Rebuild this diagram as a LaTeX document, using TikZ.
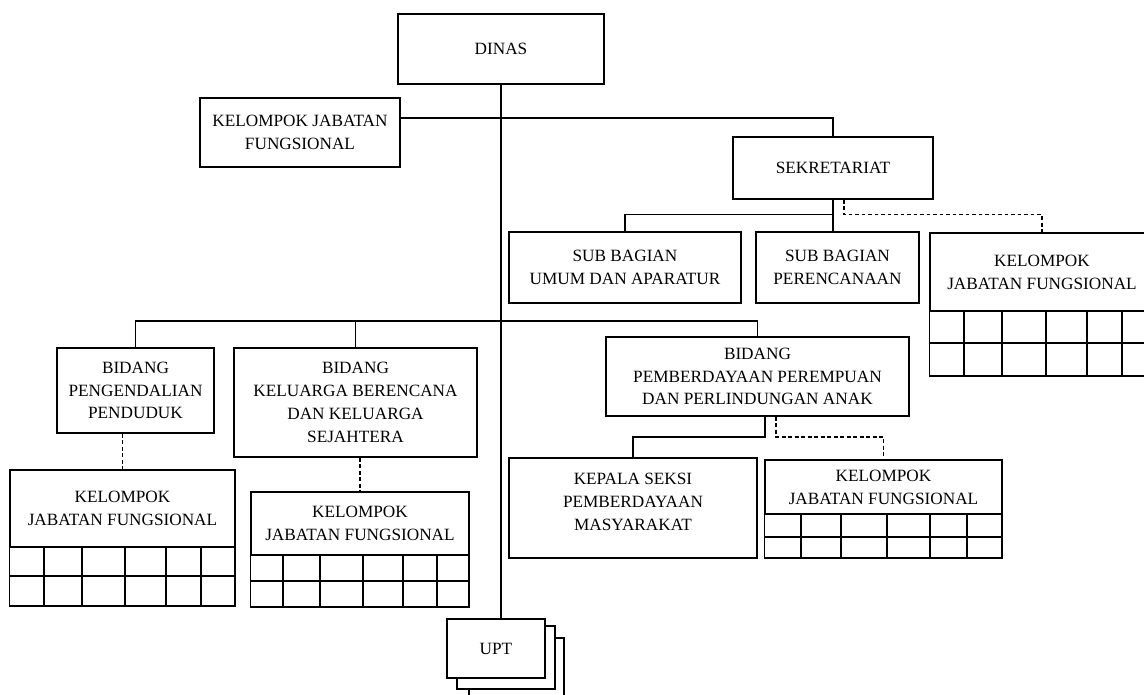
\documentclass[tikz,border=0pt]{standalone}
\usepackage{fontspec}
\setmainfont{Liberation Serif}
\usepackage{tikz}
\usetikzlibrary{positioning, calc}

\begin{document}
\begin{tikzpicture}[
		x=0.02cm, y=-0.02cm,
		font=\fontsize{9.8}{13}\selectfont,
		baseBox/.style={rectangle, draw=black, line width=0.8pt, fill=white, align=center, inner sep=1pt},
		boxSize/.style 2 args={minimum width=#1*0.02cm, minimum height=#2*0.02cm},
		stackBox/.style={draw=black, line width=0.8pt, fill=white},
		connLine/.style={draw=black, line width=0.8pt},
		dashLine/.style={connLine, dash pattern=on 2.2pt off 1.5pt},
		gridLine/.style={draw=black, line width=0.8pt}
		]

		\useasboundingbox (0,0) rectangle (1144,695);
		\clip (0,0) rectangle (1144,695);

		% Kotak
		\node[baseBox, boxSize={206}{70}] (dinas) at (501,49) {DINAS};
		\node[baseBox, boxSize={200}{69}] (kjfTop) at (300,132.5) {KELOMPOK JABATAN\\FUNGSIONAL};
		\node[baseBox, boxSize={200}{62}] (sekre) at (833,168) {SEKRETARIAT};
		\node[baseBox, boxSize={232}{71}] (subUmum) at (625,267.5) {SUB BAGIAN\\UMUM DAN APARATUR};
		\node[baseBox, boxSize={163}{71}] (subRenc) at (837.5,267.5) {SUB BAGIAN\\PERENCANAAN};
		\node[baseBox, boxSize={224}{78}] (kjfSek) at (1042,272) {KELOMPOK\\JABATAN FUNGSIONAL};
		\node[baseBox, boxSize={157}{85}] (bidDuduk) at (135.5,390.5) {BIDANG\\PENGENDALIAN\\PENDUDUK};
		\node[baseBox, boxSize={243}{109}] (bidKB) at (355.5,402.5) {BIDANG\\KELUARGA BERENCANA\\DAN KELUARGA\\SEJAHTERA};
		\node[baseBox, boxSize={303}{79}] (bidAnak) at (757.5,376.5) {BIDANG\\PEMBERDAYAAN PEREMPUAN\\DAN PERLINDUNGAN ANAK};
		\node[baseBox, boxSize={225}{77}] (kjfDuduk) at (122.5,508.5) {KELOMPOK\\JABATAN FUNGSIONAL};
		\node[baseBox, boxSize={218}{63}] (kjfKB) at (360,523.5) {KELOMPOK\\JABATAN FUNGSIONAL};
		\node[baseBox, boxSize={248}{100}] (kasi) at (633,508) {KEPALA SEKSI\\PEMBERDAYAAN\\MASYARAKAT\\[-6pt]};
		\node[baseBox, boxSize={237}{54}] (kjfAnak) at (883.5,487) {KELOMPOK\\JABATAN FUNGSIONAL};

		% UPT bertumpuk
		\path[stackBox] (469,638) rectangle (564,710);
		\path[stackBox] (457,626) rectangle (555,689);
		\node[baseBox, boxSize={98}{59}] (upt) at (496,648.5) {UPT};

		% Tabel
		\draw[gridLine] (kjfDuduk.south west) rectangle (235,606);
		\draw[gridLine] (10,576) -- (235,576);
		\foreach \c in {44,82,125,166,201}
			\draw[gridLine] (\c,547) -- (\c,606);

		\draw[gridLine] (kjfKB.south west) rectangle (469,607);
		\draw[gridLine] (251,581) -- (469,581);
		\foreach \c in {283,320,363,403,437}
			\draw[gridLine] (\c,555) -- (\c,607);

		\draw[gridLine] (kjfSek.south west) rectangle (1154,376);
		\draw[gridLine] (930,343) -- (1154,343);
		\foreach \c in {964,1002,1046,1087,1122}
			\draw[gridLine] (\c,311) -- (\c,376);

		\draw[gridLine] (kjfAnak.south west) rectangle (1002,558);
		\draw[gridLine] (765,537) -- (1002,537);
		\foreach \c in {801,841,887,930,967}
			\draw[gridLine] (\c,514) -- (\c,558);

		% Garis
		\coordinate (topJoint) at (500,118);
		\coordinate (sekJoint) at ($(sekre.south)+(0,15)$);
		\coordinate (sekDash) at ($(sekre.south)+(11,15)$);
		\coordinate (midJoint) at (500,321);
		\coordinate (anakJoint) at (765,437);
		\coordinate (anakDash) at (776,437);

		\draw[connLine] (dinas.south) -- (dinas.south |- upt.north);
		\draw[connLine] (kjfTop.east |- topJoint) -| (sekre.north);
		\draw[connLine] (sekre.south) -- (sekre.south |- subRenc.north);
		\draw[connLine] (sekJoint) -| (subUmum.north);
		\draw[dashLine] (sekre.south -| sekDash) -- (sekDash) -| (kjfSek.north);
		\draw[connLine] (bidDuduk.north) |- (midJoint) -| (bidAnak.north);
		\draw[connLine] (bidKB.north) -- (bidKB.north |- midJoint);
		\draw[dashLine] (kjfDuduk.north |- bidDuduk.south) -- (kjfDuduk.north);
		\draw[dashLine] (kjfKB.north |- bidKB.south) -- (kjfKB.north);
		\draw[connLine] (bidAnak.south -| anakJoint) -- (anakJoint) -| (kasi.north);
		\draw[dashLine] (bidAnak.south -| anakDash) -- (anakDash) -| (kjfAnak.north);

	\end{tikzpicture}
\end{document}
